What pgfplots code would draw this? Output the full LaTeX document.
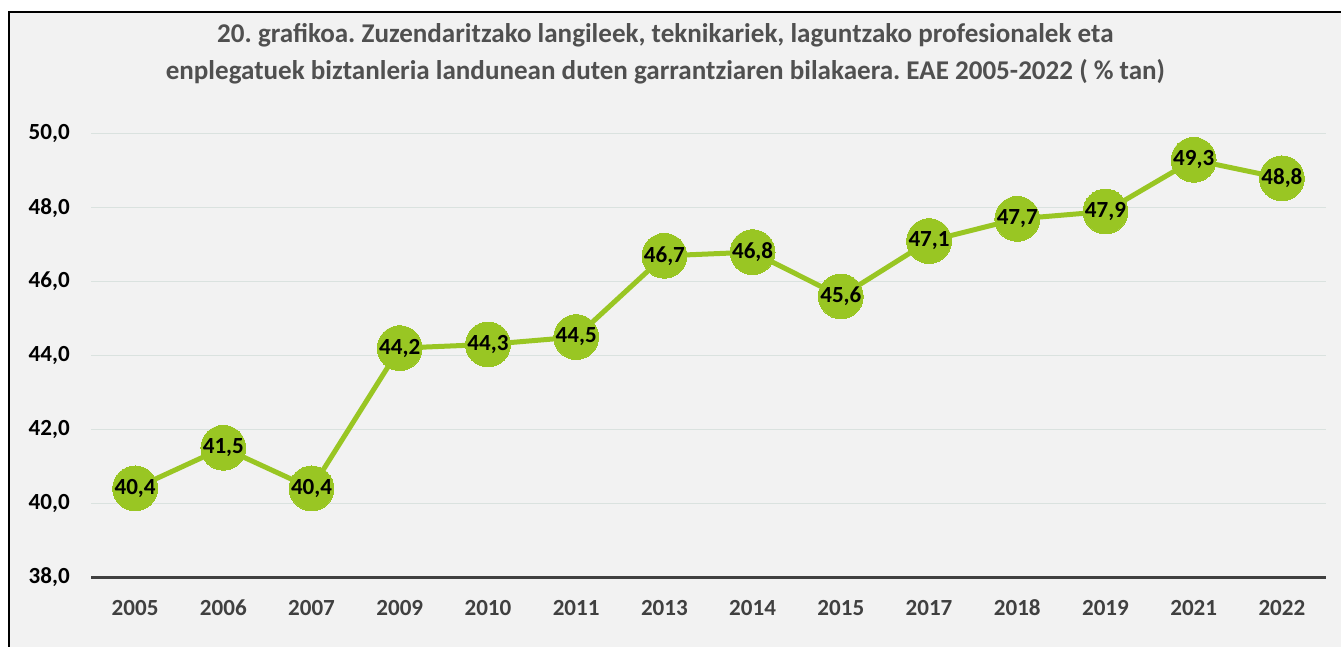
\documentclass[border=0pt]{standalone}
\usepackage{pgfplots}
\pgfplotsset{compat=1.18}
\usepackage{fontspec}
\setmainfont{Carlito}
\frenchspacing
\definecolor{lgreen}{RGB}{153,198,35}
\definecolor{bg}{RGB}{242,242,242}
\definecolor{axisgray}{RGB}{64,64,64}
\definecolor{titlegray}{RGB}{80,80,80}
\definecolor{gridc}{RGB}{218,226,223}
\begin{document}
\begin{tikzpicture}
\useasboundingbox (0,0) rectangle (1005.75pt,484.5pt);
\fill[white] (0,0) rectangle (1005.75pt,484.5pt);
\draw[line width=1.2pt, fill=bg] (6.75pt,-5pt) rectangle (1010pt,475.5pt);
\node[font=\bfseries\fontsize{20.3}{27.75}\selectfont, text=titlegray, align=center] at (499pt,444.4pt)
  {20. grafikoa. Zuzendaritzako langileek, teknikariek, laguntzako profesionalek eta\\
   enplegatuek biztanleria landunean duten garrantziaren bilakaera. EAE 2005-2022 ( \% tan)};
\begin{axis}[
  at={(68.25pt,51.75pt)}, anchor=south west,
  scale only axis, width=926.25pt, height=332.25pt,
  xmin=-0.5, xmax=13.5, ymin=38, ymax=50,
  ytick={38,40,...,50},
  xtick={0,...,13},
  xticklabels={2005,2006,2007,2009,2010,2011,2013,2014,2015,2017,2018,2019,2021,2022},
  axis line style={draw=none},
  tick style={draw=none},
  ymajorgrids,
  grid style={gridc, line width=0.75pt},
  /pgf/number format/assume math mode=true,
  /pgf/number format/.cd, use comma, fixed, fixed zerofill, precision=1, /pgfplots/.cd,
  yticklabel style={font=\bfseries\fontsize{17.3}{20}\selectfont, text=black, inner sep=0pt, anchor=east},
  yticklabel shift=15.75pt,
  xticklabel style={font=\bfseries\fontsize{17.3}{20}\selectfont, text=axisgray, inner sep=0pt, anchor=north},
  xticklabel shift=17pt,
  clip=false,
]
\draw[axisgray, line width=2.25pt] (axis cs:-0.5,38) -- (axis cs:13.5,38);
\addplot[lgreen, line width=3.75pt, mark=*, mark size=16.8pt,
  mark options={fill=lgreen, draw=lgreen, line width=0pt},
  nodes near coords, point meta=y,
  every node near coord/.append style={anchor=center, font=\bfseries\fontsize{17.3}{20}\selectfont, text=black, inner sep=0pt}]
coordinates {
(0,40.4) (1,41.5) (2,40.4) (3,44.2) (4,44.3) (5,44.5) (6,46.7)
(7,46.8) (8,45.6) (9,47.1) (10,47.7) (11,47.9) (12,49.3) (13,48.8)
};
\end{axis}
\end{tikzpicture}
\end{document}
